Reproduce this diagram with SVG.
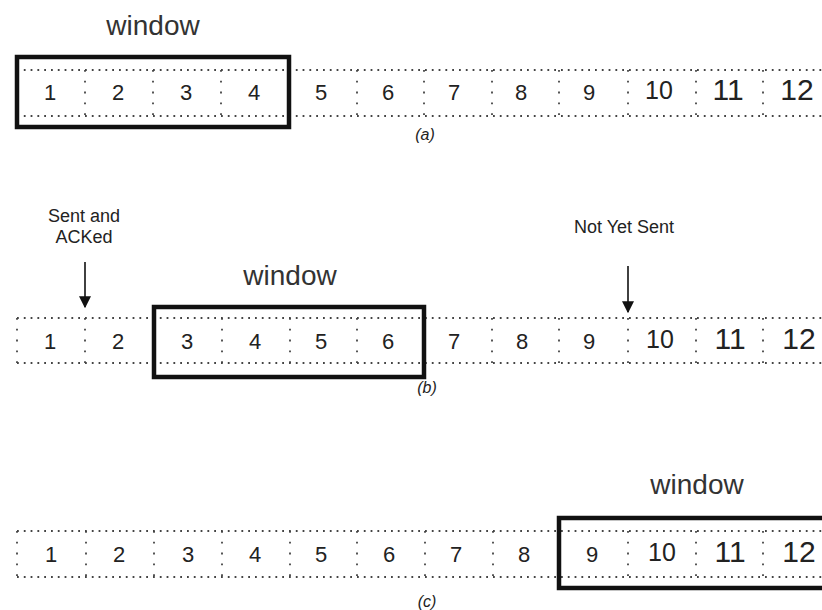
<svg xmlns="http://www.w3.org/2000/svg" width="822" height="610" viewBox="0 0 822 610">
<style>
  .bg{fill:#ffffff}
  .hdot{stroke:#444;stroke-width:1.8;stroke-dasharray:1.8 5;fill:none}
  .vdot{stroke:#444;stroke-width:1.8;stroke-dasharray:1.8 9;fill:none}
  .win{fill:none;stroke:#111;stroke-width:4.5}
  .num{font-family:"Liberation Sans",Arial,sans-serif;font-size:22px;fill:#222;text-anchor:middle}
  .num2{font-family:"Liberation Sans",Arial,sans-serif;font-size:25px;fill:#222;text-anchor:middle}
  .num3{font-family:"Liberation Sans",Arial,sans-serif;font-size:30px;fill:#222;text-anchor:middle}
  .lbl{font-family:"Liberation Sans",Arial,sans-serif;font-size:28px;fill:#333;text-anchor:middle}
  .note{font-family:"Liberation Sans",Arial,sans-serif;font-size:18px;fill:#222;text-anchor:middle}
  .cap{font-family:"Liberation Sans",Arial,sans-serif;font-size:16px;font-style:italic;fill:#222;text-anchor:middle}
  .arr{stroke:#111;stroke-width:1.6;fill:none}
</style>
<defs>
  <marker id="ah" viewBox="0 0 10 10" refX="9" refY="5" markerWidth="12" markerHeight="12" markerUnits="userSpaceOnUse" orient="auto">
    <path d="M0,0 L10,5 L0,10 Z" fill="#111"/>
  </marker>
</defs>
<rect class="bg" x="0" y="0" width="822" height="610"/>

<!-- Row (a) -->
<g id="row-a">
  <path class="hdot" d="M17,70 H822 M17,116 H822"/>
  <path class="vdot" d="M85,70 V116 M153,70 V116 M221,70 V116 M357,70 V116 M424,70 V116 M492,70 V116 M559,70 V116 M628,70 V116 M696,70 V116 M763,70 V116"/>
  <g id="a-cells">
    <text class="num" x="50" y="100">1</text>
    <text class="num" x="118" y="100">2</text>
    <text class="num" x="186" y="100">3</text>
    <text class="num" x="254" y="100">4</text>
    <text class="num" x="321" y="100">5</text>
    <text class="num" x="388" y="100">6</text>
    <text class="num" x="454" y="100">7</text>
    <text class="num" x="521" y="100">8</text>
    <text class="num" x="589" y="100">9</text>
    <text class="num2" x="659" y="99">10</text>
    <text class="num3" x="728" y="100">11</text>
    <text class="num3" x="797" y="100">12</text>
  </g>
  <g id="a-window">
    <rect class="win" x="17" y="57" width="272" height="70"/>
    <text class="lbl" x="153" y="35">window</text>
  </g>
  <text class="cap" x="425" y="140">(a)</text>
</g>

<!-- Row (b) -->
<g id="row-b">
  <path class="hdot" d="M17,318 H822 M17,363 H822"/>
  <path class="vdot" d="M17,318 V363 M85,318 V363 M222,318 V363 M290,318 V363 M357,318 V363 M492,318 V363 M559,318 V363 M628,318 V363 M696,318 V363 M763,318 V363"/>
  <g id="b-cells">
    <text class="num" x="50" y="349">1</text>
    <text class="num" x="118" y="349">2</text>
    <text class="num" x="187" y="349">3</text>
    <text class="num" x="255" y="349">4</text>
    <text class="num" x="321" y="349">5</text>
    <text class="num" x="388" y="349">6</text>
    <text class="num" x="454" y="349">7</text>
    <text class="num" x="522" y="349">8</text>
    <text class="num" x="589" y="349">9</text>
    <text class="num2" x="660" y="348">10</text>
    <text class="num3" x="730" y="349">11</text>
    <text class="num3" x="799" y="349">12</text>
  </g>
  <g id="b-window">
    <rect class="win" x="154" y="307" width="270" height="70"/>
    <text class="lbl" x="290" y="285">window</text>
  </g>
  <g id="b-acked">
    <text class="note" x="84" y="222">Sent and</text>
    <text class="note" x="84" y="243">ACKed</text>
  </g>
  <g id="b-notsent">
    <text class="note" x="624" y="233">Not Yet Sent</text>
  </g>
  <text class="cap" x="427" y="393">(b)</text>
</g>

<!-- Row (c) -->
<g id="row-c">
  <path class="hdot" d="M17,531 H822 M17,577 H822"/>
  <path class="vdot" d="M17,531 V577 M86,531 V577 M154,531 V577 M222,531 V577 M290,531 V577 M357,531 V577 M425,531 V577 M493,531 V577 M628,531 V577 M696,531 V577 M763,531 V577"/>
  <g id="c-cells">
    <text class="num" x="51" y="562">1</text>
    <text class="num" x="119" y="562">2</text>
    <text class="num" x="188" y="562">3</text>
    <text class="num" x="255" y="562">4</text>
    <text class="num" x="321" y="562">5</text>
    <text class="num" x="389" y="562">6</text>
    <text class="num" x="456" y="562">7</text>
    <text class="num" x="524" y="562">8</text>
    <text class="num" x="592" y="562">9</text>
    <text class="num2" x="662" y="561">10</text>
    <text class="num3" x="730" y="562">11</text>
    <text class="num3" x="799" y="562">12</text>
  </g>
  <g id="c-window">
    <rect class="win" x="559" y="518" width="275" height="70"/>
    <text class="lbl" x="697" y="494">window</text>
  </g>
  <text class="cap" x="427" y="607">(c)</text>
</g>

<!-- Connectors -->
<g id="connectors">
  <line class="arr" x1="85" y1="262" x2="85" y2="307" marker-end="url(#ah)"/>
  <line class="arr" x1="628" y1="266" x2="628" y2="312" marker-end="url(#ah)"/>
</g>
</svg>
